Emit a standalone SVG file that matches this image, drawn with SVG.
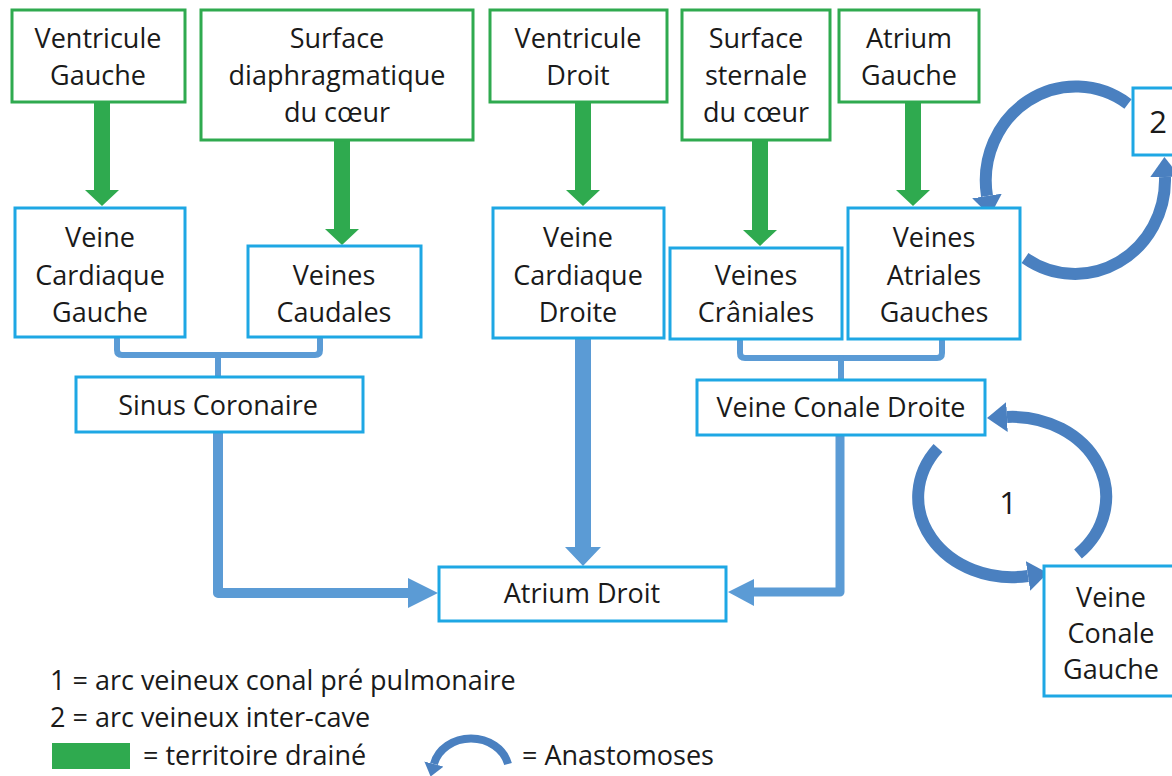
<svg xmlns="http://www.w3.org/2000/svg" width="1172" height="776" viewBox="0 0 1172 776">
<style>
.bg{fill:#ffffff}
.gbox{fill:#ffffff;stroke:#2faa4f;stroke-width:3}
.bbox{fill:#ffffff;stroke:#1ea7e4;stroke-width:3}
.t{font-family:"Open Sans","Liberation Sans",sans-serif;font-size:27px;fill:#1a1a1a;text-anchor:middle}
.big{font-size:31px}
.lt{font-family:"Open Sans","Liberation Sans",sans-serif;font-size:27px;fill:#1a1a1a}
.garrow{fill:#2faa4f}
.bl{fill:none;stroke:#5b9bd5;stroke-linejoin:round;stroke-linecap:round}
.bfill{fill:#5b9bd5}
.arc{fill:none;stroke:#4a80c0;stroke-width:12}
.arcs{fill:none;stroke:#4a80c0;stroke-width:8}
</style>
<defs>
<marker id="ah" markerUnits="userSpaceOnUse" markerWidth="20" markerHeight="30" viewBox="0 0 20 30" refX="0" refY="15" orient="auto">
<path d="M0,0 L20,15 L0,30 Z" fill="#4a80c0"/>
</marker>
<marker id="ahs" markerUnits="userSpaceOnUse" markerWidth="13" markerHeight="20" viewBox="0 0 13 20" refX="0" refY="10" orient="auto">
<path d="M0,0 L13,10 L0,20 Z" fill="#4a80c0"/>
</marker>
</defs>
<rect class="bg" x="0" y="0" width="1172" height="776"/>

<g id="connectors">
<polygon class="garrow" points="94,102 110,102 110,190 119,190 102,206 85,190 94,190"/>
<polygon class="garrow" points="334,140 350,140 350,229 359,229 342,245 325,229 334,229"/>
<polygon class="garrow" points="575,102 591,102 591,190 600,190 583,206 566,190 575,190"/>
<polygon class="garrow" points="752,140 768,140 768,230 777,230 760,246 743,230 752,230"/>
<polygon class="garrow" points="905,102 921,102 921,190 930,190 913,206 896,190 905,190"/>

<path class="bl" stroke-width="6" d="M117,339 V350 Q117,355 122,355 H315 Q320,355 320,350 V339"/>
<path class="bl" stroke-width="6" d="M218,355 V376"/>
<path class="bl" stroke-width="6" d="M740,341 V353 Q740,358 745,358 H937 Q942,358 942,353 V341"/>
<path class="bl" stroke-width="6" d="M841,358 V379"/>

<path class="bl" stroke-width="10" stroke-linejoin="miter" stroke-linecap="butt" d="M218,433 V593 H410"/>
<polygon class="bfill" points="408,578 438,593 408,608"/>
<polygon class="bfill" points="575,339 591,339 591,547 601,547 583,566 565,547 575,547"/>
<path class="bl" stroke-width="9" stroke-linejoin="miter" stroke-linecap="butt" d="M840,436 V592 H752"/>
<polygon class="bfill" points="754,579 728,592 754,606"/>

<path class="arc" marker-end="url(#ah)" d="M1128,104 A90,94 0 0 0 987,196"/>
<path class="arc" marker-end="url(#ah)" d="M1025,258 A90,94 0 0 0 1165,177"/>
<path class="arc" marker-end="url(#ah)" d="M938,448 A94,80 0 0 0 1028,576"/>
<path class="arc" marker-end="url(#ah)" d="M1078,554 A94,80 0 0 0 1007,417"/>
</g>

<g id="n-ventricule-gauche">
<rect class="gbox" x="12" y="10" width="173" height="92"/>
<text class="t" x="98" y="48">Ventricule</text>
<text class="t" x="98" y="85">Gauche</text>
</g>
<g id="n-surface-diaphragmatique">
<rect class="gbox" x="201" y="10" width="272" height="130"/>
<text class="t" x="337" y="48">Surface</text>
<text class="t" x="337" y="85">diaphragmatique</text>
<text class="t" x="337" y="122">du cœur</text>
</g>
<g id="n-ventricule-droit">
<rect class="gbox" x="490" y="10" width="177" height="92"/>
<text class="t" x="578" y="48">Ventricule</text>
<text class="t" x="578" y="85">Droit</text>
</g>
<g id="n-surface-sternale">
<rect class="gbox" x="682" y="10" width="148" height="130"/>
<text class="t" x="756" y="48">Surface</text>
<text class="t" x="756" y="85">sternale</text>
<text class="t" x="756" y="122">du cœur</text>
</g>
<g id="n-atrium-gauche">
<rect class="gbox" x="839" y="10" width="140" height="92"/>
<text class="t" x="909" y="48">Atrium</text>
<text class="t" x="909" y="85">Gauche</text>
</g>

<g id="n-veine-cardiaque-gauche">
<rect class="bbox" x="15" y="208" width="170" height="129"/>
<text class="t" x="100" y="247">Veine</text>
<text class="t" x="100" y="285">Cardiaque</text>
<text class="t" x="100" y="322">Gauche</text>
</g>
<g id="n-veines-caudales">
<rect class="bbox" x="248" y="246" width="173" height="91"/>
<text class="t" x="334" y="285">Veines</text>
<text class="t" x="334" y="322">Caudales</text>
</g>
<g id="n-veine-cardiaque-droite">
<rect class="bbox" x="493" y="208" width="171" height="130"/>
<text class="t" x="578" y="247">Veine</text>
<text class="t" x="578" y="285">Cardiaque</text>
<text class="t" x="578" y="322">Droite</text>
</g>
<g id="n-veines-craniales">
<rect class="bbox" x="670" y="248" width="172" height="91"/>
<text class="t" x="756" y="285">Veines</text>
<text class="t" x="756" y="322">Crâniales</text>
</g>
<g id="n-veines-atriales-gauches">
<rect class="bbox" x="848" y="208" width="172" height="131"/>
<text class="t" x="934" y="247">Veines</text>
<text class="t" x="934" y="285">Atriales</text>
<text class="t" x="934" y="322">Gauches</text>
</g>
<g id="n-sinus-coronaire">
<rect class="bbox" x="76" y="377" width="287" height="55"/>
<text class="t" x="218" y="415">Sinus Coronaire</text>
</g>
<g id="n-veine-conale-droite">
<rect class="bbox" x="697" y="380" width="288" height="55"/>
<text class="t" x="841" y="417">Veine Conale Droite</text>
</g>
<g id="n-atrium-droit">
<rect class="bbox" x="439" y="567" width="287" height="54"/>
<text class="t" x="582" y="603">Atrium Droit</text>
</g>
<g id="n-veine-conale-gauche">
<rect class="bbox" x="1044" y="566" width="140" height="130"/>
<text class="t" x="1111" y="607">Veine</text>
<text class="t" x="1111" y="643">Conale</text>
<text class="t" x="1111" y="679">Gauche</text>
</g>
<g id="n-2">
<rect class="bbox" x="1133" y="88" width="50" height="67"/>
<text class="t big" x="1158" y="133">2</text>
</g>
<g id="n-1">
<text class="t big" x="1008" y="514">1</text>
</g>

<g id="legend">
<text class="lt" x="50" y="690">1 = arc veineux conal pré pulmonaire</text>
<text class="lt" x="50" y="727">2 = arc veineux inter-cave</text>
<rect x="52" y="743" width="78" height="26" fill="#2faa4f"/>
<text class="lt" x="143" y="765">= territoire drainé</text>
<path class="arcs" marker-end="url(#ahs)" d="M508,764 A38,33 0 0 0 434,764"/>
<text class="lt" x="522" y="765">= Anastomoses</text>
</g>
</svg>
